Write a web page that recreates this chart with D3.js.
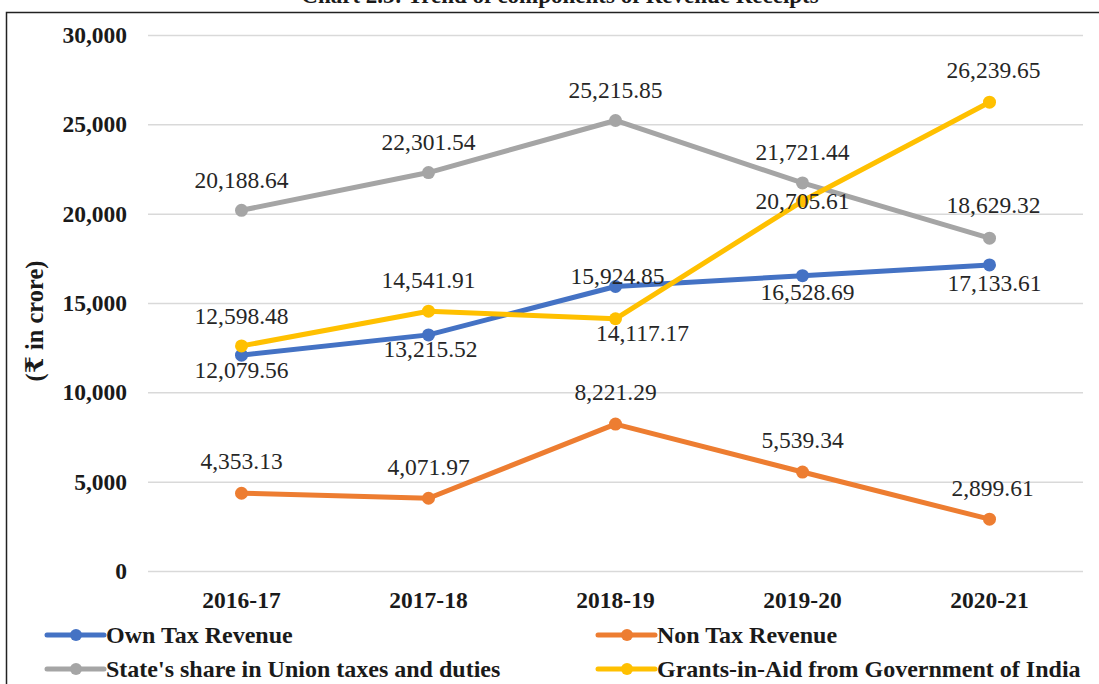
<!DOCTYPE html>
<html>
<head>
<meta charset="utf-8">
<script src="https://cdn.jsdelivr.net/npm/d3@7"></script>
<style>
  html, body { margin: 0; padding: 0; background: #fff; }
  svg { display: block; }
  text { font-family: "Liberation Serif", "Times New Roman", "DejaVu Serif", serif; }
</style>
</head>
<body>
<svg id="chart" width="1099" height="684"></svg>
<script>
// Revenue receipts components, ₹ in crore
const years = ["2016-17", "2017-18", "2018-19", "2019-20", "2020-21"];
const ownTaxRevenue = [12079.56, 13215.52, 15924.85, 16528.69, 17133.61];
const nonTaxRevenue = [4353.13, 4071.97, 8221.29, 5539.34, 2899.61];
const unionTaxShare = [20188.64, 22301.54, 25215.85, 21721.44, 18629.32];
const grantsInAid = [12598.48, 14541.91, 14117.17, 20705.61, 26239.65];
const yTicks = [0, 5000, 10000, 15000, 20000, 25000, 30000];

const seriesNames = [
  "Own Tax Revenue",
  "Non Tax Revenue",
  "State's share in Union taxes and duties",
  "Grants-in-Aid from Government of India"
];
const seriesColors = ["#4472C4", "#ED7D31", "#A5A5A5", "#FFC000"];

// value-label placement relative to each point (dx, dy of text centre)
const labelOffsets = [
  [[0, 15], [2, 14], [2, -11], [5, 16], [5, 18]],
  [[0, -32], [0, -31], [0, -32], [0, -32], [3, -31]],
  [[0, -31], [0, -31], [0, -31], [0, -31], [4, -33]],
  [[0, -30], [0, -31], [27, 14], [0, 0], [4, -32]]
];

const svg = d3.select("#chart");
const W = 1099, H = 684;

const x = d3.scaleBand().domain(years).range([148, 1083]).padding(0);
const y = d3.scaleLinear().domain([0, 30000]).range([571, 35]);
const cx = d => x(d) + x.bandwidth() / 2;

// title (partially above the frame)
svg.append("text")
  .attr("x", 560).attr("y", 3)
  .attr("text-anchor", "middle")
  .attr("font-weight", "bold")
  .attr("font-size", 23)
  .attr("fill", "#1a1a1a")
  .text("Chart 2.3: Trend of components of Revenue Receipts");

// frame
svg.append("path")
  .attr("d", `M6.5,${H} L6.5,12.5 L${W},12.5`)
  .attr("fill", "none")
  .attr("stroke", "#222")
  .attr("stroke-width", 1.5);

// gridlines + y labels
const yAxis = d3.axisLeft(y)
  .tickValues(yTicks)
  .tickSize(-(1083 - 148))
  .tickPadding(21)
  .tickFormat(d3.format(","));
const gy = svg.append("g").attr("transform", "translate(148,0)").call(yAxis);
gy.select(".domain").remove();
gy.selectAll(".tick line").attr("stroke", "#D9D9D9").attr("stroke-width", 1.5);
gy.selectAll(".tick text")
  .attr("font-family", "'Liberation Serif', serif")
  .attr("font-weight", "bold")
  .attr("font-size", 23.5)
  .attr("fill", "#1a1a1a");

// x labels
const xAxis = d3.axisBottom(x).tickSize(0).tickPadding(20);
const gx = svg.append("g").attr("transform", "translate(0,571)").call(xAxis);
gx.select(".domain").remove();
gx.selectAll(".tick text")
  .attr("font-family", "'Liberation Serif', serif")
  .attr("font-weight", "bold")
  .attr("font-size", 23.5)
  .attr("fill", "#1a1a1a");

// y-axis title
svg.append("text")
  .attr("transform", "translate(43,321) rotate(-90)")
  .attr("text-anchor", "middle")
  .attr("font-weight", "bold")
  .attr("font-size", 24.5)
  .attr("fill", "#1a1a1a")
  .text("(₹ in crore)");

const allSeries = [ownTaxRevenue, nonTaxRevenue, unionTaxShare, grantsInAid];

const line = d3.line()
  .x((d, i) => cx(years[i]))
  .y(d => y(d));

allSeries.forEach((vals, s) => {
  const g = svg.append("g");
  g.append("path")
    .datum(vals)
    .attr("d", line)
    .attr("fill", "none")
    .attr("stroke", seriesColors[s])
    .attr("stroke-width", 5)
    .attr("stroke-linejoin", "round")
    .attr("stroke-linecap", "round");
  g.selectAll("circle")
    .data(vals)
    .join("circle")
    .attr("cx", (d, i) => cx(years[i]))
    .attr("cy", d => y(d))
    .attr("r", 6.5)
    .attr("fill", seriesColors[s]);
});

// value labels
const fmt = d3.format(",.2f");
allSeries.forEach((vals, s) => {
  svg.append("g").selectAll("text")
    .data(vals)
    .join("text")
    .attr("x", (d, i) => cx(years[i]) + labelOffsets[s][i][0])
    .attr("y", (d, i) => y(d) + labelOffsets[s][i][1])
    .attr("dy", "0.35em")
    .attr("text-anchor", "middle")
    .attr("font-size", 23.5)
    .attr("fill", "#262626")
    .text(d => fmt(d));
});

// legend
const legendPos = [[47, 635], [598, 635], [47, 669], [598, 669]];
seriesNames.forEach((name, s) => {
  const [lx, ly] = legendPos[s];
  const g = svg.append("g").attr("transform", `translate(${lx},${ly})`);
  g.append("line")
    .attr("x1", 0).attr("x2", 57)
    .attr("y1", 0).attr("y2", 0)
    .attr("stroke", seriesColors[s])
    .attr("stroke-width", 5)
    .attr("stroke-linecap", "round");
  g.append("circle").attr("cx", 29).attr("cy", 0).attr("r", 6).attr("fill", seriesColors[s]);
  g.append("text")
    .attr("x", 59).attr("y", 0)
    .attr("dy", "0.35em")
    .attr("font-weight", "bold")
    .attr("font-size", 24)
    .attr("fill", "#1a1a1a")
    .text(name);
});
</script>
</body>
</html>
